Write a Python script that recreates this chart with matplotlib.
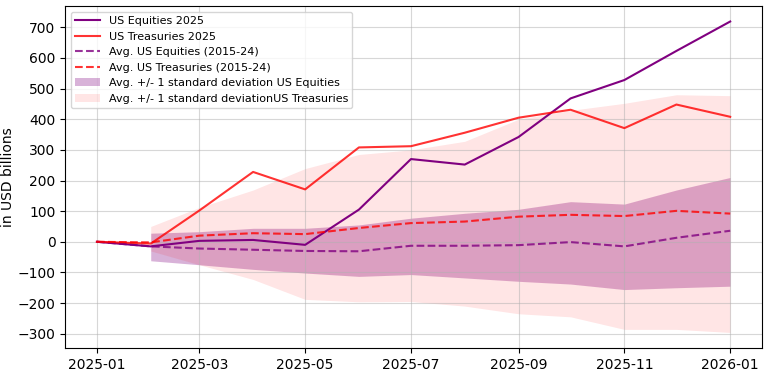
import matplotlib.pyplot as plt
import matplotlib.ticker as mticker
import pandas as pd

dates = pd.date_range('2025-01-01', '2026-01-01', freq='MS')

eq_2025 = [0, -15, 3, 6, -10, 105, 270, 252, 342, 468, 528, 623, 719]
tr_2025 = [0, -6, 102, 228, 171, 308, 312, 356, 405, 431, 371, 448, 408]
eq_avg = [0, -15, -22, -26, -30, -31, -13, -13, -11, -1, -15, 13, 36]
tr_avg = [0, -2, 20, 28, 25, 45, 61, 66, 82, 88, 84, 101, 92]

# bands start in February
eq_hi = [28, 33, 44, 44, 55, 77, 93, 106, 131, 123, 169, 210]
eq_lo = [-62, -75, -90, -102, -113, -107, -118, -129, -138, -156, -150, -145]
tr_hi = [50, 112, 169, 239, 285, 300, 328, 400, 429, 452, 480, 477]
tr_lo = [-30, -75, -123, -188, -196, -195, -210, -235, -245, -286, -286, -296]

fig, ax = plt.subplots(figsize=(7.68, 3.73), dpi=100)

ax.plot(dates, eq_2025, color='purple', label='US Equities 2025')
ax.plot(dates, tr_2025, color='red', alpha=0.8, label='US Treasuries 2025')
ax.plot(dates, eq_avg, color='purple', linestyle='--', alpha=0.8, label='Avg. US Equities (2015-24)')
ax.plot(dates, tr_avg, color='red', linestyle='--', alpha=0.8, label='Avg. US Treasuries (2015-24)')
ax.fill_between(dates[1:], eq_lo, eq_hi, color='purple', alpha=0.3, linewidth=0,
                label='Avg. +/- 1 standard deviation US Equities')
ax.fill_between(dates[1:], tr_lo, tr_hi, color='red', alpha=0.1, linewidth=0,
                label='Avg. +/- 1 standard deviationUS Treasuries')

ax.yaxis.set_major_locator(mticker.MultipleLocator(100))
ax.set_ylabel('in USD billions', labelpad=2)
ax.grid(True, alpha=0.5)
ax.legend(loc='upper left', fontsize=8, handlelength=2.2)

plt.subplots_adjust(left=0.085, right=0.992, top=0.984, bottom=0.067)
plt.savefig('out.png')
